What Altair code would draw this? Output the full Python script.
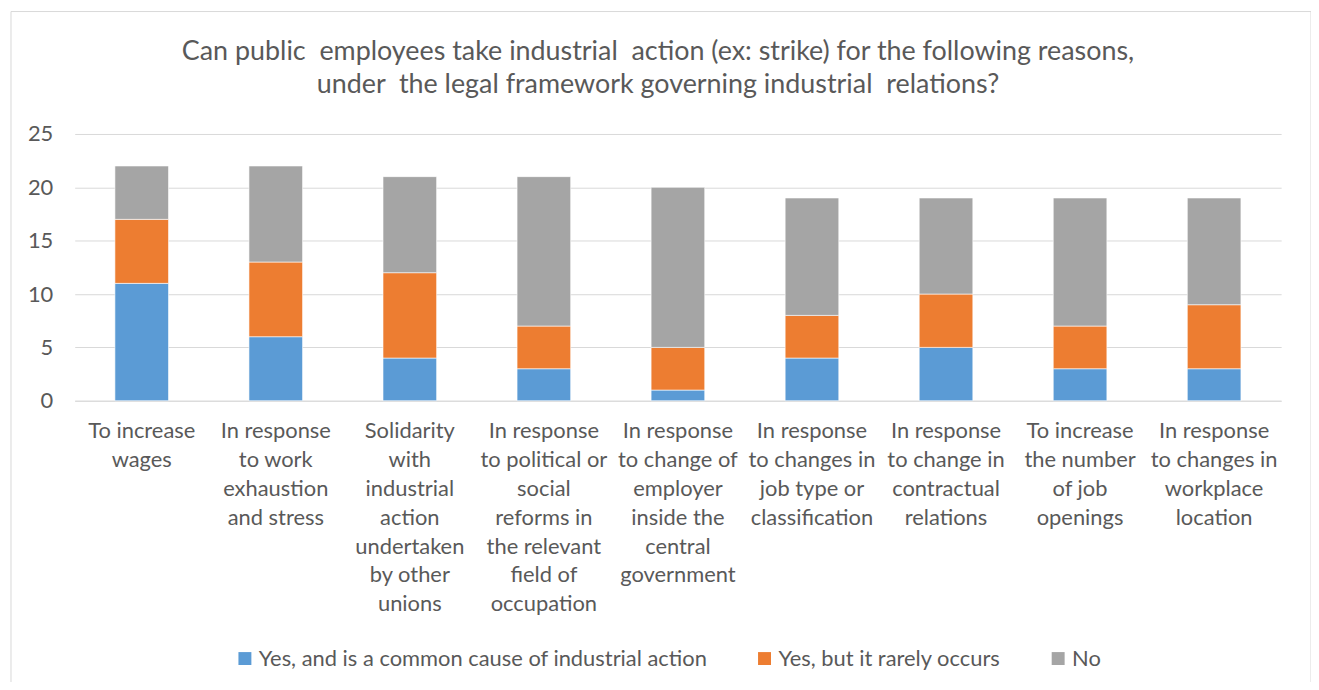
import altair as alt
import pandas as pd

categories = [
    "To increase|wages",
    "In response|to work|exhaustion|and stress",
    "Solidarity|with|industrial|action|undertaken|by other|unions",
    "In response|to political or|social|reforms in|the relevant|field of|occupation",
    "In response|to change of|employer|inside the|central|government",
    "In response|to changes in|job type or|classification",
    "In response|to change in|contractual|relations",
    "To increase|the number|of job|openings",
    "In response|to changes in|workplace|location",
]
series = [
    "Yes, and is a common cause of industrial action",
    "Yes, but it rarely occurs",
    "No",
]
common = [11, 6, 4, 3, 1, 4, 5, 3, 3]
rarely = [6, 7, 8, 4, 4, 4, 5, 4, 6]
no = [5, 9, 9, 14, 15, 11, 9, 12, 10]
colors = ["#5B9BD5", "#ED7D31", "#A5A5A5"]
title_lines = [
    "Can public \u00a0employees take industrial \u00a0action (ex: strike) for the following reasons,",
    "under \u00a0the legal framework governing industrial \u00a0relations?",
]

rows = []
for s_i, (name, vals) in enumerate(zip(series, [common, rarely, no])):
    for c, v in zip(categories, vals):
        rows.append({"category": c, "series": name, "value": v, "idx": s_i})
df = pd.DataFrame(rows)

FONT = "Lato"
TXT = "#595959"
FS = 22

bars = alt.Chart(df).mark_bar(stroke="#ffffff", strokeWidth=0.6).encode(
    x=alt.X(
        "category:N",
        sort=categories,
        title=None,
        scale=alt.Scale(paddingInner=0.6, paddingOuter=0.3),
        axis=alt.Axis(
            labelAngle=0,
            labelExpr="split(datum.label, '|')",
            labelFontSize=FS,
            labelLineHeight=29,
            labelColor=TXT,
            labelFont=FONT,
            labelPadding=20,
            labelLimit=0,
            ticks=False,
            domainColor="#d9d9d9",
            labelBaseline="top",
        ),
    ),
    y=alt.Y(
        "value:Q",
        stack="zero",
        title=None,
        scale=alt.Scale(domain=[0, 25]),
        axis=alt.Axis(
            values=[0, 5, 10, 15, 20, 25],
            labelFontSize=FS,
            labelColor=TXT,
            labelFont=FONT,
            labelPadding=22,
            ticks=False,
            domain=False,
            gridColor="#d9d9d9",
        ),
    ),
    color=alt.Color(
        "series:N",
        sort=series,
        scale=alt.Scale(domain=series, range=colors),
        legend=alt.Legend(
            title=None,
            orient="none",
            legendX=160,
            legendY=516,
            direction="horizontal",
            symbolType="square",
            symbolSize=169,
            symbolStrokeWidth=0,
            labelFontSize=FS,
            labelColor=TXT,
            labelFont=FONT,
            labelOffset=3,
            columnPadding=46,
            padding=0,
            labelLimit=0,
        ),
    ),
    order=alt.Order("idx:Q", sort="ascending"),
)

frame = alt.Chart(alt.Data(values=[{"k": 1}])).mark_rect(
    filled=False, stroke="#d9d9d9", strokeWidth=1
).encode(
    x=alt.value(-64), x2=alt.value(1242), y=alt.value(-123), y2=alt.value(580)
)

title = alt.Chart(alt.Data(values=[{"k": 1}])).mark_text(
    text=title_lines,
    font=FONT,
    fontSize=27,
    color=TXT,
    align="center",
    baseline="alphabetic",
    lineHeight=33,
).encode(x=alt.value(586), y=alt.value(-74))

chart = alt.layer(frame, title, bars).properties(
    width=1212,
    height=268,
    autosize=alt.AutoSizeParams(type="none"),
    padding={"left": 67, "top": 125, "right": 30, "bottom": 281},
).configure_view(stroke=None)

chart.save("out.html", embed_options={"renderer": "svg", "actions": False})
